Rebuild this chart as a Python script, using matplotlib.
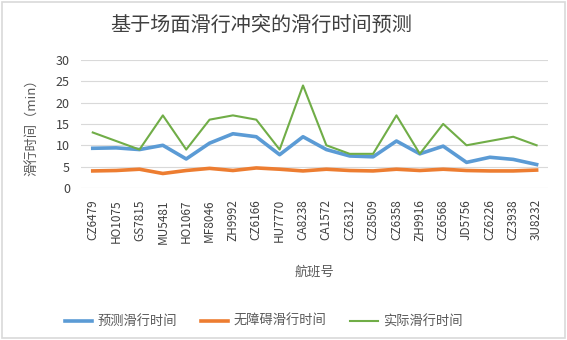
""" Taxi time prediction chart with Matplotlib """

import matplotlib.pyplot as plt

plt.rcParams['font.family'] = ['Noto Sans CJK SC', 'DejaVu Sans']

# Data
flights = ["CZ6479", "HO1075", "GS7815", "MU5481", "HO1067", "MF8046", "ZH9992",
           "CZ6166", "HU7770", "CA8238", "CA1572", "CZ6312", "CZ8509", "CZ6358",
           "ZH9916", "CZ6568", "JD5756", "CZ6226", "CZ3938", "3U8232"]
predicted = [9.3, 9.4, 9.0, 10.0, 6.8, 10.5, 12.7, 12.0, 7.8, 12.0,
             9.0, 7.5, 7.3, 11.0, 8.0, 9.8, 6.0, 7.2, 6.7, 5.5]
unimpeded = [4.0, 4.1, 4.4, 3.4, 4.1, 4.6, 4.1, 4.7, 4.4, 4.0,
             4.4, 4.1, 4.0, 4.4, 4.1, 4.4, 4.1, 4.0, 4.0, 4.2]
actual = [13, 11, 9, 17, 9, 16, 17, 16, 9, 24,
          10, 8, 8, 17, 8, 15, 10, 11, 12, 10]

fig = plt.figure(figsize=(5.67, 3.40), dpi=100)
ax = fig.add_axes([0.143, 0.447, 0.824, 0.377])

x = range(len(flights))
ax.plot(x, predicted, color="#5b9bd5", linewidth=2.6, label="预测滑行时间")
ax.plot(x, unimpeded, color="#ed7d31", linewidth=2.6, label="无障碍滑行时间")
ax.plot(x, actual, color="#70ad47", linewidth=1.5, label="实际滑行时间")

ax.set_xlim(-0.5, len(flights) - 0.5)
ax.set_ylim(0, 30)
ax.set_yticks(range(0, 31, 5))
ax.set_xticks(list(x))
ax.set_xticklabels(flights, rotation=90, fontsize=8.5, color="#404040")
ax.tick_params(axis="y", labelsize=9, colors="#404040", length=0, pad=8)
ax.tick_params(axis="x", length=0, pad=8)
ax.grid(axis="y", color="#d9d9d9", linewidth=0.8)
ax.set_axisbelow(True)
for s in ax.spines.values():
    s.set_visible(False)

ax.set_ylabel("滑行时间（min）", fontsize=9.5, color="#595959", labelpad=12)
ax.set_xlabel("航班号", fontsize=9.5, color="#595959", labelpad=16)
fig.suptitle("基于场面滑行冲突的滑行时间预测", fontsize=14.5, color="#404040",
             x=0.46, y=0.955)

fig.legend(loc="lower center", ncol=3, frameon=False, fontsize=9.5,
           bbox_to_anchor=(0.465, 0.0), handlelength=2.1, handletextpad=0.4,
           columnspacing=1.8, labelcolor="#595959")

# Border around the figure
fig.patches.append(plt.Rectangle((0.003, 0.006), 0.994, 0.988, transform=fig.transFigure,
                                 fill=False, edgecolor="#d9d9d9", linewidth=1.2))

plt.savefig("out.png")
